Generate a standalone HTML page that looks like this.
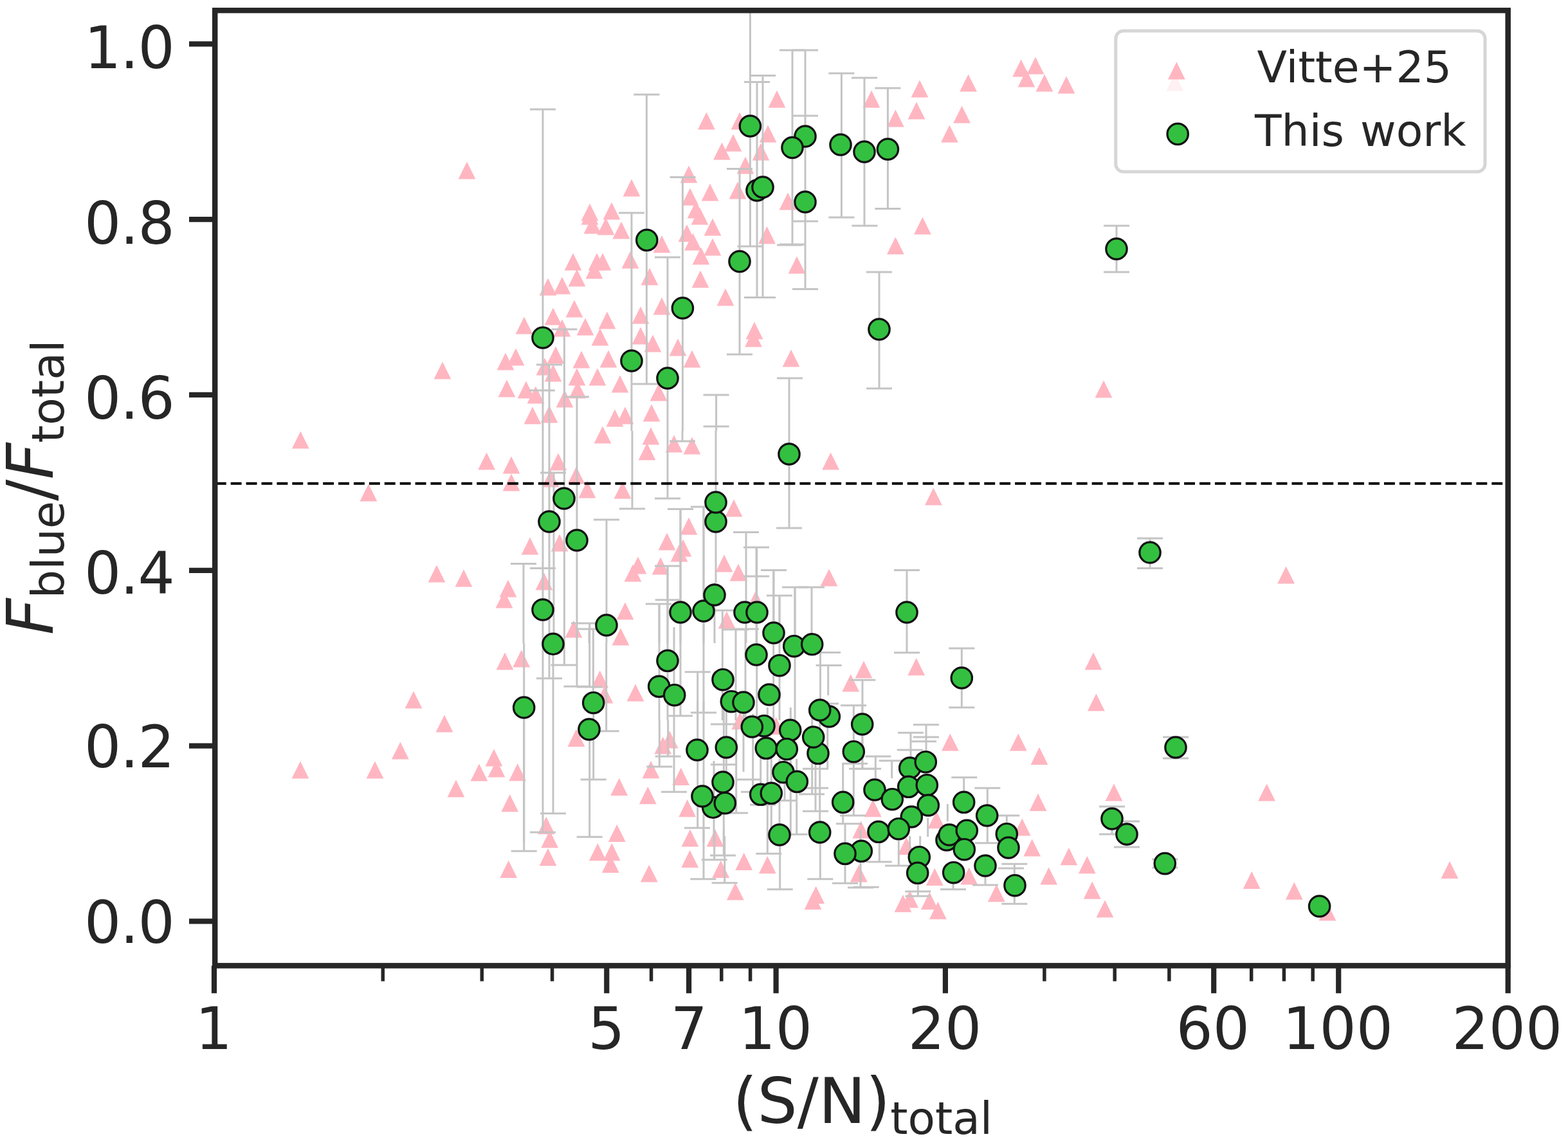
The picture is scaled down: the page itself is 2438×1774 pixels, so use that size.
<!DOCTYPE html>
<html><head><meta charset="utf-8"><title>F_blue/F_total vs (S/N)_total</title>
<style>html,body{margin:0;padding:0;background:#fff;}svg{display:block;}</style>
</head><body>
<svg xmlns="http://www.w3.org/2000/svg" width="2438" height="1774" viewBox="0 0 2438 1774">
<rect width="2438" height="1774" fill="#fff"/>
<defs><clipPath id="ax"><rect x="334.2" y="16.2" width="2010.4999999999998" height="1485.2"/></clipPath></defs>
<g clip-path="url(#ax)">
<path d="M726.0 251.4L712.6 278.6L739.4 278.6Z" fill="#ffb6c1"/>
<path d="M1098.4 174.4L1085.0 201.6L1111.8 201.6Z" fill="#ffb6c1"/>
<path d="M1208.0 140.4L1194.6 167.6L1221.4 167.6Z" fill="#ffb6c1"/>
<path d="M1150.0 174.4L1136.6 201.6L1163.4 201.6Z" fill="#ffb6c1"/>
<path d="M1194.0 194.4L1180.6 221.6L1207.4 221.6Z" fill="#ffb6c1"/>
<path d="M1140.0 208.4L1126.6 235.6L1153.4 235.6Z" fill="#ffb6c1"/>
<path d="M1122.4 221.4L1109.0 248.6L1135.8 248.6Z" fill="#ffb6c1"/>
<path d="M1183.0 222.4L1169.6 249.6L1196.4 249.6Z" fill="#ffb6c1"/>
<path d="M1159.0 243.4L1145.6 270.6L1172.4 270.6Z" fill="#ffb6c1"/>
<path d="M1071.0 257.4L1057.6 284.6L1084.4 284.6Z" fill="#ffb6c1"/>
<path d="M982.0 278.4L968.6 305.6L995.4 305.6Z" fill="#ffb6c1"/>
<path d="M1104.0 285.4L1090.6 312.6L1117.4 312.6Z" fill="#ffb6c1"/>
<path d="M1073.0 292.4L1059.6 319.6L1086.4 319.6Z" fill="#ffb6c1"/>
<path d="M1147.0 282.4L1133.6 309.6L1160.4 309.6Z" fill="#ffb6c1"/>
<path d="M1082.0 312.4L1068.6 339.6L1095.4 339.6Z" fill="#ffb6c1"/>
<path d="M951.0 314.4L937.6 341.6L964.4 341.6Z" fill="#ffb6c1"/>
<path d="M917.0 316.4L903.6 343.6L930.4 343.6Z" fill="#ffb6c1"/>
<path d="M1225.0 299.4L1211.6 326.6L1238.4 326.6Z" fill="#ffb6c1"/>
<path d="M1355.0 140.4L1341.6 167.6L1368.4 167.6Z" fill="#ffb6c1"/>
<path d="M1430.0 124.4L1416.6 151.6L1443.4 151.6Z" fill="#ffb6c1"/>
<path d="M1425.0 158.4L1411.6 185.6L1438.4 185.6Z" fill="#ffb6c1"/>
<path d="M1392.4 170.4L1379.0 197.6L1405.8 197.6Z" fill="#ffb6c1"/>
<path d="M1505.6 115.4L1492.2 142.6L1519.0 142.6Z" fill="#ffb6c1"/>
<path d="M1495.6 164.4L1482.2 191.6L1509.0 191.6Z" fill="#ffb6c1"/>
<path d="M1476.4 194.4L1463.0 221.6L1489.8 221.6Z" fill="#ffb6c1"/>
<path d="M1587.6 92.4L1574.2 119.6L1601.0 119.6Z" fill="#ffb6c1"/>
<path d="M1610.0 88.4L1596.6 115.6L1623.4 115.6Z" fill="#ffb6c1"/>
<path d="M1596.0 108.4L1582.6 135.6L1609.4 135.6Z" fill="#ffb6c1"/>
<path d="M1624.0 115.4L1610.6 142.6L1637.4 142.6Z" fill="#ffb6c1"/>
<path d="M1658.0 118.4L1644.6 145.6L1671.4 145.6Z" fill="#ffb6c1"/>
<path d="M688.0 562.4L674.6 589.6L701.4 589.6Z" fill="#ffb6c1"/>
<path d="M917.0 322.4L903.6 349.6L930.4 349.6Z" fill="#ffb6c1"/>
<path d="M921.0 336.4L907.6 363.6L934.4 363.6Z" fill="#ffb6c1"/>
<path d="M942.0 338.4L928.6 365.6L955.4 365.6Z" fill="#ffb6c1"/>
<path d="M966.0 344.4L952.6 371.6L979.4 371.6Z" fill="#ffb6c1"/>
<path d="M1029.0 365.9L1015.6 393.1L1042.4 393.1Z" fill="#ffb6c1"/>
<path d="M891.0 393.4L877.6 420.6L904.4 420.6Z" fill="#ffb6c1"/>
<path d="M928.0 393.4L914.6 420.6L941.4 420.6Z" fill="#ffb6c1"/>
<path d="M937.0 393.4L923.6 420.6L950.4 420.6Z" fill="#ffb6c1"/>
<path d="M980.0 390.4L966.6 417.6L993.4 417.6Z" fill="#ffb6c1"/>
<path d="M1088.0 322.4L1074.6 349.6L1101.4 349.6Z" fill="#ffb6c1"/>
<path d="M1108.0 339.4L1094.6 366.6L1121.4 366.6Z" fill="#ffb6c1"/>
<path d="M1068.0 348.9L1054.6 376.1L1081.4 376.1Z" fill="#ffb6c1"/>
<path d="M1077.5 362.4L1064.1 389.6L1090.9 389.6Z" fill="#ffb6c1"/>
<path d="M1108.0 370.4L1094.6 397.6L1121.4 397.6Z" fill="#ffb6c1"/>
<path d="M1090.0 384.4L1076.6 411.6L1103.4 411.6Z" fill="#ffb6c1"/>
<path d="M1192.5 352.0L1179.1 379.2L1205.9 379.2Z" fill="#ffb6c1"/>
<path d="M924.0 406.4L910.6 433.6L937.4 433.6Z" fill="#ffb6c1"/>
<path d="M897.0 418.4L883.6 445.6L910.4 445.6Z" fill="#ffb6c1"/>
<path d="M1010.0 416.4L996.6 443.6L1023.4 443.6Z" fill="#ffb6c1"/>
<path d="M1089.0 420.4L1075.6 447.6L1102.4 447.6Z" fill="#ffb6c1"/>
<path d="M852.0 432.4L838.6 459.6L865.4 459.6Z" fill="#ffb6c1"/>
<path d="M874.0 430.4L860.6 457.6L887.4 457.6Z" fill="#ffb6c1"/>
<path d="M1128.0 448.4L1114.6 475.6L1141.4 475.6Z" fill="#ffb6c1"/>
<path d="M893.0 466.4L879.6 493.6L906.4 493.6Z" fill="#ffb6c1"/>
<path d="M860.0 478.4L846.6 505.6L873.4 505.6Z" fill="#ffb6c1"/>
<path d="M1029.0 462.4L1015.6 489.6L1042.4 489.6Z" fill="#ffb6c1"/>
<path d="M996.0 476.4L982.6 503.6L1009.4 503.6Z" fill="#ffb6c1"/>
<path d="M944.0 484.4L930.6 511.6L957.4 511.6Z" fill="#ffb6c1"/>
<path d="M815.0 492.4L801.6 519.6L828.4 519.6Z" fill="#ffb6c1"/>
<path d="M874.0 496.4L860.6 523.6L887.4 523.6Z" fill="#ffb6c1"/>
<path d="M910.0 494.4L896.6 521.6L923.4 521.6Z" fill="#ffb6c1"/>
<path d="M933.0 510.4L919.6 537.6L946.4 537.6Z" fill="#ffb6c1"/>
<path d="M996.0 508.4L982.6 535.6L1009.4 535.6Z" fill="#ffb6c1"/>
<path d="M1015.0 520.4L1001.6 547.6L1028.4 547.6Z" fill="#ffb6c1"/>
<path d="M1054.0 526.4L1040.6 553.6L1067.4 553.6Z" fill="#ffb6c1"/>
<path d="M1173.0 500.4L1159.6 527.6L1186.4 527.6Z" fill="#ffb6c1"/>
<path d="M1171.5 512.4L1158.1 539.6L1184.9 539.6Z" fill="#ffb6c1"/>
<path d="M864.0 538.4L850.6 565.6L877.4 565.6Z" fill="#ffb6c1"/>
<path d="M802.0 541.4L788.6 568.6L815.4 568.6Z" fill="#ffb6c1"/>
<path d="M786.0 548.4L772.6 575.6L799.4 575.6Z" fill="#ffb6c1"/>
<path d="M904.0 545.4L890.6 572.6L917.4 572.6Z" fill="#ffb6c1"/>
<path d="M946.0 544.4L932.6 571.6L959.4 571.6Z" fill="#ffb6c1"/>
<path d="M1076.0 544.4L1062.6 571.6L1089.4 571.6Z" fill="#ffb6c1"/>
<path d="M847.0 556.4L833.6 583.6L860.4 583.6Z" fill="#ffb6c1"/>
<path d="M860.0 566.4L846.6 593.6L873.4 593.6Z" fill="#ffb6c1"/>
<path d="M897.0 572.4L883.6 599.6L910.4 599.6Z" fill="#ffb6c1"/>
<path d="M929.0 572.4L915.6 599.6L942.4 599.6Z" fill="#ffb6c1"/>
<path d="M964.0 583.4L950.6 610.6L977.4 610.6Z" fill="#ffb6c1"/>
<path d="M788.0 590.4L774.6 617.6L801.4 617.6Z" fill="#ffb6c1"/>
<path d="M818.0 592.4L804.6 619.6L831.4 619.6Z" fill="#ffb6c1"/>
<path d="M833.0 600.4L819.6 627.6L846.4 627.6Z" fill="#ffb6c1"/>
<path d="M878.0 606.4L864.6 633.6L891.4 633.6Z" fill="#ffb6c1"/>
<path d="M898.0 592.4L884.6 619.6L911.4 619.6Z" fill="#ffb6c1"/>
<path d="M1024.0 596.4L1010.6 623.6L1037.4 623.6Z" fill="#ffb6c1"/>
<path d="M828.0 632.4L814.6 659.6L841.4 659.6Z" fill="#ffb6c1"/>
<path d="M854.0 630.4L840.6 657.6L867.4 657.6Z" fill="#ffb6c1"/>
<path d="M956.0 636.4L942.6 663.6L969.4 663.6Z" fill="#ffb6c1"/>
<path d="M972.0 632.4L958.6 659.6L985.4 659.6Z" fill="#ffb6c1"/>
<path d="M1013.0 628.4L999.6 655.6L1026.4 655.6Z" fill="#ffb6c1"/>
<path d="M1434.4 337.4L1421.0 364.6L1447.8 364.6Z" fill="#ffb6c1"/>
<path d="M1392.4 368.4L1379.0 395.6L1405.8 395.6Z" fill="#ffb6c1"/>
<path d="M1239.0 398.4L1225.6 425.6L1252.4 425.6Z" fill="#ffb6c1"/>
<path d="M1230.0 543.4L1216.6 570.6L1243.4 570.6Z" fill="#ffb6c1"/>
<path d="M1716.0 591.4L1702.6 618.6L1729.4 618.6Z" fill="#ffb6c1"/>
<path d="M756.6 703.4L743.2 730.6L770.0 730.6Z" fill="#ffb6c1"/>
<path d="M573.0 752.4L559.6 779.6L586.4 779.6Z" fill="#ffb6c1"/>
<path d="M679.0 878.4L665.6 905.6L692.4 905.6Z" fill="#ffb6c1"/>
<path d="M721.0 885.4L707.6 912.6L734.4 912.6Z" fill="#ffb6c1"/>
<path d="M937.0 662.4L923.6 689.6L950.4 689.6Z" fill="#ffb6c1"/>
<path d="M1012.0 664.4L998.6 691.6L1025.4 691.6Z" fill="#ffb6c1"/>
<path d="M1006.0 688.4L992.6 715.6L1019.4 715.6Z" fill="#ffb6c1"/>
<path d="M1048.0 676.4L1034.6 703.6L1061.4 703.6Z" fill="#ffb6c1"/>
<path d="M1076.0 679.4L1062.6 706.6L1089.4 706.6Z" fill="#ffb6c1"/>
<path d="M795.0 709.4L781.6 736.6L808.4 736.6Z" fill="#ffb6c1"/>
<path d="M868.0 704.4L854.6 731.6L881.4 731.6Z" fill="#ffb6c1"/>
<path d="M795.0 736.4L781.6 763.6L808.4 763.6Z" fill="#ffb6c1"/>
<path d="M856.0 730.4L842.6 757.6L869.4 757.6Z" fill="#ffb6c1"/>
<path d="M896.0 725.4L882.6 752.6L909.4 752.6Z" fill="#ffb6c1"/>
<path d="M913.0 747.4L899.6 774.6L926.4 774.6Z" fill="#ffb6c1"/>
<path d="M968.0 748.4L954.6 775.6L981.4 775.6Z" fill="#ffb6c1"/>
<path d="M1141.0 776.4L1127.6 803.6L1154.4 803.6Z" fill="#ffb6c1"/>
<path d="M1071.0 804.4L1057.6 831.6L1084.4 831.6Z" fill="#ffb6c1"/>
<path d="M824.0 835.4L810.6 862.6L837.4 862.6Z" fill="#ffb6c1"/>
<path d="M870.0 830.4L856.6 857.6L883.4 857.6Z" fill="#ffb6c1"/>
<path d="M1037.0 828.4L1023.6 855.6L1050.4 855.6Z" fill="#ffb6c1"/>
<path d="M1062.0 838.4L1048.6 865.6L1075.4 865.6Z" fill="#ffb6c1"/>
<path d="M1056.0 846.4L1042.6 873.6L1069.4 873.6Z" fill="#ffb6c1"/>
<path d="M992.0 865.4L978.6 892.6L1005.4 892.6Z" fill="#ffb6c1"/>
<path d="M984.0 877.4L970.6 904.6L997.4 904.6Z" fill="#ffb6c1"/>
<path d="M1027.0 866.4L1013.6 893.6L1040.4 893.6Z" fill="#ffb6c1"/>
<path d="M1126.0 862.4L1112.6 889.6L1139.4 889.6Z" fill="#ffb6c1"/>
<path d="M1148.0 876.4L1134.6 903.6L1161.4 903.6Z" fill="#ffb6c1"/>
<path d="M846.0 890.4L832.6 917.6L859.4 917.6Z" fill="#ffb6c1"/>
<path d="M790.0 901.4L776.6 928.6L803.4 928.6Z" fill="#ffb6c1"/>
<path d="M784.0 918.4L770.6 945.6L797.4 945.6Z" fill="#ffb6c1"/>
<path d="M972.0 936.4L958.6 963.6L985.4 963.6Z" fill="#ffb6c1"/>
<path d="M1175.0 918.4L1161.6 945.6L1188.4 945.6Z" fill="#ffb6c1"/>
<path d="M892.0 964.4L878.6 991.6L905.4 991.6Z" fill="#ffb6c1"/>
<path d="M965.0 976.4L951.6 1003.6L978.4 1003.6Z" fill="#ffb6c1"/>
<path d="M1130.0 950.4L1116.6 977.6L1143.4 977.6Z" fill="#ffb6c1"/>
<path d="M1291.6 703.4L1278.2 730.6L1305.0 730.6Z" fill="#ffb6c1"/>
<path d="M1451.4 758.4L1438.0 785.6L1464.8 785.6Z" fill="#ffb6c1"/>
<path d="M1289.0 884.4L1275.6 911.6L1302.4 911.6Z" fill="#ffb6c1"/>
<path d="M1999.6 880.4L1986.2 907.6L2013.0 907.6Z" fill="#ffb6c1"/>
<path d="M643.0 1074.4L629.6 1101.6L656.4 1101.6Z" fill="#ffb6c1"/>
<path d="M691.0 1111.4L677.6 1138.6L704.4 1138.6Z" fill="#ffb6c1"/>
<path d="M622.4 1153.4L609.0 1180.6L635.8 1180.6Z" fill="#ffb6c1"/>
<path d="M467.0 1183.4L453.6 1210.6L480.4 1210.6Z" fill="#ffb6c1"/>
<path d="M583.0 1183.4L569.6 1210.6L596.4 1210.6Z" fill="#ffb6c1"/>
<path d="M745.0 1187.4L731.6 1214.6L758.4 1214.6Z" fill="#ffb6c1"/>
<path d="M768.0 1164.4L754.6 1191.6L781.4 1191.6Z" fill="#ffb6c1"/>
<path d="M709.0 1212.4L695.6 1239.6L722.4 1239.6Z" fill="#ffb6c1"/>
<path d="M785.0 1014.4L771.6 1041.6L798.4 1041.6Z" fill="#ffb6c1"/>
<path d="M810.7 1010.4L797.3 1037.6L824.1 1037.6Z" fill="#ffb6c1"/>
<path d="M932.7 1042.4L919.3 1069.6L946.1 1069.6Z" fill="#ffb6c1"/>
<path d="M940.0 1066.4L926.6 1093.6L953.4 1093.6Z" fill="#ffb6c1"/>
<path d="M988.0 1063.4L974.6 1090.6L1001.4 1090.6Z" fill="#ffb6c1"/>
<path d="M896.0 1133.7L882.6 1160.9L909.4 1160.9Z" fill="#ffb6c1"/>
<path d="M804.7 1187.1L791.3 1214.3L818.1 1214.3Z" fill="#ffb6c1"/>
<path d="M792.7 1235.1L779.3 1262.3L806.1 1262.3Z" fill="#ffb6c1"/>
<path d="M849.3 1269.7L835.9 1296.9L862.7 1296.9Z" fill="#ffb6c1"/>
<path d="M854.7 1291.1L841.3 1318.3L868.1 1318.3Z" fill="#ffb6c1"/>
<path d="M962.7 1209.7L949.3 1236.9L976.1 1236.9Z" fill="#ffb6c1"/>
<path d="M959.3 1281.7L945.9 1308.9L972.7 1308.9Z" fill="#ffb6c1"/>
<path d="M1012.0 1183.1L998.6 1210.3L1025.4 1210.3Z" fill="#ffb6c1"/>
<path d="M1007.3 1223.1L993.9 1250.3L1020.7 1250.3Z" fill="#ffb6c1"/>
<path d="M1030.7 1145.4L1017.3 1172.6L1044.1 1172.6Z" fill="#ffb6c1"/>
<path d="M1041.3 1136.4L1027.9 1163.6L1054.7 1163.6Z" fill="#ffb6c1"/>
<path d="M1058.7 1193.7L1045.3 1220.9L1072.1 1220.9Z" fill="#ffb6c1"/>
<path d="M1068.7 1243.1L1055.3 1270.3L1082.1 1270.3Z" fill="#ffb6c1"/>
<path d="M1073.0 1289.4L1059.6 1316.6L1086.4 1316.6Z" fill="#ffb6c1"/>
<path d="M1112.0 1289.4L1098.6 1316.6L1125.4 1316.6Z" fill="#ffb6c1"/>
<path d="M1150.7 1107.1L1137.3 1134.3L1164.1 1134.3Z" fill="#ffb6c1"/>
<path d="M1206.7 1115.1L1193.3 1142.3L1220.1 1142.3Z" fill="#ffb6c1"/>
<path d="M1338.7 1276.4L1325.3 1303.6L1352.1 1303.6Z" fill="#ffb6c1"/>
<path d="M1072.7 1321.7L1059.3 1348.9L1086.1 1348.9Z" fill="#ffb6c1"/>
<path d="M1120.7 1337.7L1107.3 1364.9L1134.1 1364.9Z" fill="#ffb6c1"/>
<path d="M1156.7 1325.7L1143.3 1352.9L1170.1 1352.9Z" fill="#ffb6c1"/>
<path d="M1193.3 1331.1L1179.9 1358.3L1206.7 1358.3Z" fill="#ffb6c1"/>
<path d="M1143.3 1372.4L1129.9 1399.6L1156.7 1399.6Z" fill="#ffb6c1"/>
<path d="M1268.7 1377.7L1255.3 1404.9L1282.1 1404.9Z" fill="#ffb6c1"/>
<path d="M1264.0 1387.1L1250.6 1414.3L1277.4 1414.3Z" fill="#ffb6c1"/>
<path d="M1335.3 1344.4L1321.9 1371.6L1348.7 1371.6Z" fill="#ffb6c1"/>
<path d="M790.7 1337.7L777.3 1364.9L804.1 1364.9Z" fill="#ffb6c1"/>
<path d="M852.0 1319.1L838.6 1346.3L865.4 1346.3Z" fill="#ffb6c1"/>
<path d="M929.3 1311.1L915.9 1338.3L942.7 1338.3Z" fill="#ffb6c1"/>
<path d="M951.3 1311.1L937.9 1338.3L964.7 1338.3Z" fill="#ffb6c1"/>
<path d="M949.3 1329.7L935.9 1356.9L962.7 1356.9Z" fill="#ffb6c1"/>
<path d="M1009.3 1344.4L995.9 1371.6L1022.7 1371.6Z" fill="#ffb6c1"/>
<path d="M1424.7 1023.1L1411.3 1050.3L1438.1 1050.3Z" fill="#ffb6c1"/>
<path d="M1343.0 1027.4L1329.6 1054.6L1356.4 1054.6Z" fill="#ffb6c1"/>
<path d="M1477.3 1140.4L1463.9 1167.6L1490.7 1167.6Z" fill="#ffb6c1"/>
<path d="M1583.3 1140.4L1569.9 1167.6L1596.7 1167.6Z" fill="#ffb6c1"/>
<path d="M1616.0 1161.7L1602.6 1188.9L1629.4 1188.9Z" fill="#ffb6c1"/>
<path d="M1614.0 1233.7L1600.6 1260.9L1627.4 1260.9Z" fill="#ffb6c1"/>
<path d="M1589.3 1272.4L1575.9 1299.6L1602.7 1299.6Z" fill="#ffb6c1"/>
<path d="M1604.7 1304.4L1591.3 1331.6L1618.1 1331.6Z" fill="#ffb6c1"/>
<path d="M1630.7 1348.4L1617.3 1375.6L1644.1 1375.6Z" fill="#ffb6c1"/>
<path d="M1549.3 1375.1L1535.9 1402.3L1562.7 1402.3Z" fill="#ffb6c1"/>
<path d="M1456.0 1261.1L1442.6 1288.3L1469.4 1288.3Z" fill="#ffb6c1"/>
<path d="M1357.3 1243.1L1343.9 1270.3L1370.7 1270.3Z" fill="#ffb6c1"/>
<path d="M1409.3 1301.7L1395.9 1328.9L1422.7 1328.9Z" fill="#ffb6c1"/>
<path d="M1453.3 1349.7L1439.9 1376.9L1466.7 1376.9Z" fill="#ffb6c1"/>
<path d="M1506.7 1348.4L1493.3 1375.6L1520.1 1375.6Z" fill="#ffb6c1"/>
<path d="M1414.7 1384.4L1401.3 1411.6L1428.1 1411.6Z" fill="#ffb6c1"/>
<path d="M1445.3 1387.1L1431.9 1414.3L1458.7 1414.3Z" fill="#ffb6c1"/>
<path d="M1404.0 1391.1L1390.6 1418.3L1417.4 1418.3Z" fill="#ffb6c1"/>
<path d="M1458.4 1402.1L1445.0 1429.3L1471.8 1429.3Z" fill="#ffb6c1"/>
<path d="M1700.0 1014.4L1686.6 1041.6L1713.4 1041.6Z" fill="#ffb6c1"/>
<path d="M1704.4 1078.4L1691.0 1105.6L1717.8 1105.6Z" fill="#ffb6c1"/>
<path d="M1732.0 1218.4L1718.6 1245.6L1745.4 1245.6Z" fill="#ffb6c1"/>
<path d="M1969.6 1218.4L1956.2 1245.6L1983.0 1245.6Z" fill="#ffb6c1"/>
<path d="M1661.9 1318.1L1648.5 1345.3L1675.3 1345.3Z" fill="#ffb6c1"/>
<path d="M1690.3 1331.0L1676.9 1358.2L1703.7 1358.2Z" fill="#ffb6c1"/>
<path d="M1698.2 1370.6L1684.8 1397.8L1711.6 1397.8Z" fill="#ffb6c1"/>
<path d="M1718.0 1399.4L1704.6 1426.6L1731.4 1426.6Z" fill="#ffb6c1"/>
<path d="M1946.2 1354.8L1932.8 1382.0L1959.6 1382.0Z" fill="#ffb6c1"/>
<path d="M2012.3 1371.6L1998.9 1398.8L2025.7 1398.8Z" fill="#ffb6c1"/>
<path d="M2064.0 1404.4L2050.6 1431.6L2077.4 1431.6Z" fill="#ffb6c1"/>
<path d="M2254.0 1338.9L2240.6 1366.1L2267.4 1366.1Z" fill="#ffb6c1"/>
<path d="M1322.7 1048.2L1309.3 1075.4L1336.1 1075.4Z" fill="#ffb6c1"/>
<path d="M467.3 670.4L453.9 697.6L480.7 697.6Z" fill="#ffb6c1"/>
<path d="M772.0 1181.4L758.6 1208.6L785.4 1208.6Z" fill="#ffb6c1"/>
<path d="M1826.7 114.4L1813.3 141.6L1840.1 141.6Z" fill="#ffb6c1"/>
<line x1="814.0" y1="876.6" x2="814.0" y2="1000.0" stroke="#c4c4c4" stroke-width="3"/>
<line x1="844.0" y1="670.0" x2="844.0" y2="1000.0" stroke="#c4c4c4" stroke-width="3"/>
<line x1="854.0" y1="670.0" x2="854.0" y2="1000.0" stroke="#c4c4c4" stroke-width="3"/>
<line x1="861.0" y1="735.0" x2="861.0" y2="1000.0" stroke="#c4c4c4" stroke-width="3"/>
<line x1="877.4" y1="670.0" x2="877.4" y2="1000.0" stroke="#c4c4c4" stroke-width="3"/>
<line x1="897.0" y1="670.0" x2="897.0" y2="1000.0" stroke="#c4c4c4" stroke-width="3"/>
<line x1="916.0" y1="978.0" x2="916.0" y2="1000.0" stroke="#c4c4c4" stroke-width="3"/>
<line x1="943.0" y1="808.0" x2="943.0" y2="1000.0" stroke="#c4c4c4" stroke-width="3"/>
<line x1="983.0" y1="670.0" x2="983.0" y2="791.0" stroke="#c4c4c4" stroke-width="3"/>
<line x1="1038.0" y1="670.0" x2="1038.0" y2="775.0" stroke="#c4c4c4" stroke-width="3"/>
<line x1="1038.0" y1="880.0" x2="1038.0" y2="1000.0" stroke="#c4c4c4" stroke-width="3"/>
<line x1="1058.0" y1="791.0" x2="1058.0" y2="1000.0" stroke="#c4c4c4" stroke-width="3"/>
<line x1="1061.0" y1="670.0" x2="1061.0" y2="686.0" stroke="#c4c4c4" stroke-width="3"/>
<line x1="1094.0" y1="788.0" x2="1094.0" y2="1000.0" stroke="#c4c4c4" stroke-width="3"/>
<line x1="1113.0" y1="670.0" x2="1113.0" y2="906.0" stroke="#c4c4c4" stroke-width="3"/>
<line x1="1111.0" y1="906.0" x2="1111.0" y2="925.0" stroke="#c4c4c4" stroke-width="3"/>
<line x1="1160.0" y1="827.6" x2="1160.0" y2="1000.0" stroke="#c4c4c4" stroke-width="3"/>
<line x1="1176.0" y1="851.0" x2="1176.0" y2="1000.0" stroke="#c4c4c4" stroke-width="3"/>
<line x1="1203.0" y1="886.0" x2="1203.0" y2="1000.0" stroke="#c4c4c4" stroke-width="3"/>
<line x1="1212.0" y1="926.0" x2="1212.0" y2="1000.0" stroke="#c4c4c4" stroke-width="3"/>
<line x1="1227.0" y1="670.0" x2="1227.0" y2="821.0" stroke="#c4c4c4" stroke-width="3"/>
<line x1="1025.0" y1="939.0" x2="1025.0" y2="1000.0" stroke="#c4c4c4" stroke-width="3"/>
<line x1="844.0" y1="170.0" x2="844.0" y2="670.0" stroke="#c4c4c4" stroke-width="3"/>
<line x1="854.0" y1="567.0" x2="854.0" y2="670.0" stroke="#c4c4c4" stroke-width="3"/>
<line x1="877.4" y1="512.0" x2="877.4" y2="670.0" stroke="#c4c4c4" stroke-width="3"/>
<line x1="897.0" y1="617.0" x2="897.0" y2="670.0" stroke="#c4c4c4" stroke-width="3"/>
<line x1="982.0" y1="331.0" x2="982.0" y2="670.0" stroke="#c4c4c4" stroke-width="3"/>
<line x1="1005.4" y1="147.0" x2="1005.4" y2="597.0" stroke="#c4c4c4" stroke-width="3"/>
<line x1="1038.0" y1="400.0" x2="1038.0" y2="670.0" stroke="#c4c4c4" stroke-width="3"/>
<line x1="1061.4" y1="275.6" x2="1061.4" y2="670.0" stroke="#c4c4c4" stroke-width="3"/>
<line x1="1113.6" y1="614.0" x2="1113.6" y2="670.0" stroke="#c4c4c4" stroke-width="3"/>
<line x1="1150.0" y1="262.0" x2="1150.0" y2="551.0" stroke="#c4c4c4" stroke-width="3"/>
<line x1="1166.4" y1="19.0" x2="1166.4" y2="383.0" stroke="#c4c4c4" stroke-width="3"/>
<line x1="1177.0" y1="127.6" x2="1177.0" y2="462.0" stroke="#c4c4c4" stroke-width="3"/>
<line x1="1186.0" y1="117.6" x2="1186.0" y2="462.0" stroke="#c4c4c4" stroke-width="3"/>
<line x1="1227.0" y1="588.0" x2="1227.0" y2="670.0" stroke="#c4c4c4" stroke-width="3"/>
<line x1="1232.0" y1="78.0" x2="1232.0" y2="380.0" stroke="#c4c4c4" stroke-width="3"/>
<line x1="1252.0" y1="78.0" x2="1252.0" y2="449.6" stroke="#c4c4c4" stroke-width="3"/>
<line x1="1308.4" y1="114.0" x2="1308.4" y2="338.0" stroke="#c4c4c4" stroke-width="3"/>
<line x1="1344.0" y1="121.0" x2="1344.0" y2="351.0" stroke="#c4c4c4" stroke-width="3"/>
<line x1="1380.4" y1="137.0" x2="1380.4" y2="324.4" stroke="#c4c4c4" stroke-width="3"/>
<line x1="1367.0" y1="423.0" x2="1367.0" y2="604.0" stroke="#c4c4c4" stroke-width="3"/>
<line x1="1736.0" y1="351.0" x2="1736.0" y2="423.0" stroke="#c4c4c4" stroke-width="3"/>
<line x1="1410.0" y1="886.4" x2="1410.0" y2="1000.0" stroke="#c4c4c4" stroke-width="3"/>
<line x1="1236.0" y1="913.0" x2="1236.0" y2="1000.0" stroke="#c4c4c4" stroke-width="3"/>
<line x1="1262.0" y1="913.0" x2="1262.0" y2="1000.0" stroke="#c4c4c4" stroke-width="3"/>
<line x1="1788.0" y1="837.0" x2="1788.0" y2="883.6" stroke="#c4c4c4" stroke-width="3"/>
<line x1="814.7" y1="1000.0" x2="814.7" y2="1100.0" stroke="#c4c4c4" stroke-width="3"/>
<line x1="854.0" y1="1000.0" x2="854.0" y2="1054.7" stroke="#c4c4c4" stroke-width="3"/>
<line x1="860.0" y1="1000.0" x2="860.0" y2="1120.0" stroke="#c4c4c4" stroke-width="3"/>
<line x1="877.4" y1="1000.0" x2="877.4" y2="1034.0" stroke="#c4c4c4" stroke-width="3"/>
<line x1="897.0" y1="1000.0" x2="897.0" y2="1067.3" stroke="#c4c4c4" stroke-width="3"/>
<line x1="916.7" y1="969.0" x2="916.7" y2="1068.0" stroke="#c4c4c4" stroke-width="3"/>
<line x1="922.4" y1="978.0" x2="922.4" y2="1093.0" stroke="#c4c4c4" stroke-width="3"/>
<line x1="942.7" y1="1000.0" x2="942.7" y2="1120.0" stroke="#c4c4c4" stroke-width="3"/>
<line x1="844.0" y1="1000.0" x2="844.0" y2="1120.0" stroke="#c4c4c4" stroke-width="3"/>
<line x1="1058.0" y1="791.0" x2="1058.0" y2="1113.0" stroke="#c4c4c4" stroke-width="3"/>
<line x1="1094.0" y1="788.0" x2="1094.0" y2="1108.0" stroke="#c4c4c4" stroke-width="3"/>
<line x1="1111.0" y1="925.0" x2="1111.0" y2="1000.0" stroke="#c4c4c4" stroke-width="3"/>
<line x1="1038.0" y1="880.0" x2="1038.0" y2="1120.0" stroke="#c4c4c4" stroke-width="3"/>
<line x1="1025.0" y1="939.0" x2="1025.0" y2="1120.0" stroke="#c4c4c4" stroke-width="3"/>
<line x1="1048.0" y1="975.0" x2="1048.0" y2="1120.0" stroke="#c4c4c4" stroke-width="3"/>
<line x1="1123.3" y1="949.0" x2="1123.3" y2="1120.0" stroke="#c4c4c4" stroke-width="3"/>
<line x1="1144.0" y1="978.7" x2="1144.0" y2="1120.0" stroke="#c4c4c4" stroke-width="3"/>
<line x1="1159.0" y1="978.0" x2="1159.0" y2="1120.0" stroke="#c4c4c4" stroke-width="3"/>
<line x1="1176.7" y1="851.0" x2="1176.7" y2="1120.0" stroke="#c4c4c4" stroke-width="3"/>
<line x1="1212.0" y1="926.0" x2="1212.0" y2="1120.0" stroke="#c4c4c4" stroke-width="3"/>
<line x1="1202.7" y1="886.0" x2="1202.7" y2="1120.0" stroke="#c4c4c4" stroke-width="3"/>
<line x1="1236.0" y1="913.0" x2="1236.0" y2="1120.0" stroke="#c4c4c4" stroke-width="3"/>
<line x1="1084.7" y1="1044.7" x2="1084.7" y2="1120.0" stroke="#c4c4c4" stroke-width="3"/>
<line x1="844.0" y1="1120.0" x2="844.0" y2="1294.0" stroke="#c4c4c4" stroke-width="3"/>
<line x1="860.0" y1="1120.0" x2="860.0" y2="1264.7" stroke="#c4c4c4" stroke-width="3"/>
<line x1="814.7" y1="1100.0" x2="814.7" y2="1310.0" stroke="#c4c4c4" stroke-width="3"/>
<line x1="916.7" y1="1134.0" x2="916.7" y2="1301.3" stroke="#c4c4c4" stroke-width="3"/>
<line x1="922.7" y1="1093.0" x2="922.7" y2="1212.0" stroke="#c4c4c4" stroke-width="3"/>
<line x1="942.7" y1="1120.0" x2="942.7" y2="1136.7" stroke="#c4c4c4" stroke-width="3"/>
<line x1="1025.3" y1="1120.0" x2="1025.3" y2="1192.0" stroke="#c4c4c4" stroke-width="3"/>
<line x1="1038.7" y1="1120.0" x2="1038.7" y2="1176.0" stroke="#c4c4c4" stroke-width="3"/>
<line x1="1048.0" y1="1120.0" x2="1048.0" y2="1231.3" stroke="#c4c4c4" stroke-width="3"/>
<line x1="1084.7" y1="1090.0" x2="1084.7" y2="1287.3" stroke="#c4c4c4" stroke-width="3"/>
<line x1="1094.0" y1="1090.0" x2="1094.0" y2="1310.0" stroke="#c4c4c4" stroke-width="3"/>
<line x1="1110.0" y1="1183.0" x2="1110.0" y2="1310.0" stroke="#c4c4c4" stroke-width="3"/>
<line x1="1125.3" y1="1090.0" x2="1125.3" y2="1310.0" stroke="#c4c4c4" stroke-width="3"/>
<line x1="1129.3" y1="1090.0" x2="1129.3" y2="1250.0" stroke="#c4c4c4" stroke-width="3"/>
<line x1="1144.7" y1="1130.0" x2="1144.7" y2="1264.0" stroke="#c4c4c4" stroke-width="3"/>
<line x1="1156.0" y1="1090.0" x2="1156.0" y2="1200.0" stroke="#c4c4c4" stroke-width="3"/>
<line x1="1170.7" y1="1110.0" x2="1170.7" y2="1231.0" stroke="#c4c4c4" stroke-width="3"/>
<line x1="1182.7" y1="1150.0" x2="1182.7" y2="1251.0" stroke="#c4c4c4" stroke-width="3"/>
<line x1="1193.3" y1="1100.0" x2="1193.3" y2="1260.0" stroke="#c4c4c4" stroke-width="3"/>
<line x1="1199.3" y1="1150.0" x2="1199.3" y2="1300.0" stroke="#c4c4c4" stroke-width="3"/>
<line x1="1212.0" y1="1180.0" x2="1212.0" y2="1300.0" stroke="#c4c4c4" stroke-width="3"/>
<line x1="1220.0" y1="1150.0" x2="1220.0" y2="1245.0" stroke="#c4c4c4" stroke-width="3"/>
<line x1="1229.3" y1="1100.0" x2="1229.3" y2="1300.0" stroke="#c4c4c4" stroke-width="3"/>
<line x1="1238.7" y1="1180.0" x2="1238.7" y2="1297.0" stroke="#c4c4c4" stroke-width="3"/>
<line x1="1262.7" y1="1100.0" x2="1262.7" y2="1235.0" stroke="#c4c4c4" stroke-width="3"/>
<line x1="1268.0" y1="1160.0" x2="1268.0" y2="1261.0" stroke="#c4c4c4" stroke-width="3"/>
<line x1="1274.7" y1="1090.0" x2="1274.7" y2="1300.0" stroke="#c4c4c4" stroke-width="3"/>
<line x1="1286.7" y1="1090.0" x2="1286.7" y2="1195.0" stroke="#c4c4c4" stroke-width="3"/>
<line x1="1310.7" y1="1187.0" x2="1310.7" y2="1281.0" stroke="#c4c4c4" stroke-width="3"/>
<line x1="1327.3" y1="1096.0" x2="1327.3" y2="1268.0" stroke="#c4c4c4" stroke-width="3"/>
<line x1="1340.7" y1="1096.0" x2="1340.7" y2="1195.0" stroke="#c4c4c4" stroke-width="3"/>
<line x1="1094.0" y1="1290.0" x2="1094.0" y2="1366.7" stroke="#c4c4c4" stroke-width="3"/>
<line x1="1110.7" y1="1290.0" x2="1110.7" y2="1336.7" stroke="#c4c4c4" stroke-width="3"/>
<line x1="1125.3" y1="1290.0" x2="1125.3" y2="1330.0" stroke="#c4c4c4" stroke-width="3"/>
<line x1="1126.7" y1="1300.0" x2="1126.7" y2="1372.7" stroke="#c4c4c4" stroke-width="3"/>
<line x1="1193.3" y1="1260.0" x2="1193.3" y2="1327.0" stroke="#c4c4c4" stroke-width="3"/>
<line x1="1212.7" y1="1300.0" x2="1212.7" y2="1382.7" stroke="#c4c4c4" stroke-width="3"/>
<line x1="1275.3" y1="1294.0" x2="1275.3" y2="1366.7" stroke="#c4c4c4" stroke-width="3"/>
<line x1="1314.0" y1="1280.0" x2="1314.0" y2="1373.0" stroke="#c4c4c4" stroke-width="3"/>
<line x1="1338.0" y1="1290.0" x2="1338.0" y2="1380.0" stroke="#c4c4c4" stroke-width="3"/>
<line x1="814.7" y1="1100.0" x2="814.7" y2="1323.3" stroke="#c4c4c4" stroke-width="3"/>
<line x1="1495.3" y1="1008.0" x2="1495.3" y2="1100.0" stroke="#c4c4c4" stroke-width="3"/>
<line x1="1410.0" y1="1000.0" x2="1410.0" y2="1014.7" stroke="#c4c4c4" stroke-width="3"/>
<line x1="1341.0" y1="1057.0" x2="1341.0" y2="1195.0" stroke="#c4c4c4" stroke-width="3"/>
<line x1="1440.0" y1="1126.7" x2="1440.0" y2="1184.7" stroke="#c4c4c4" stroke-width="3"/>
<line x1="1416.0" y1="1139.3" x2="1416.0" y2="1194.0" stroke="#c4c4c4" stroke-width="3"/>
<line x1="1361.3" y1="1176.0" x2="1361.3" y2="1210.0" stroke="#c4c4c4" stroke-width="3"/>
<line x1="1386.7" y1="1182.7" x2="1386.7" y2="1210.0" stroke="#c4c4c4" stroke-width="3"/>
<line x1="1367.3" y1="1310.0" x2="1367.3" y2="1340.0" stroke="#c4c4c4" stroke-width="3"/>
<line x1="1397.3" y1="1307.0" x2="1397.3" y2="1346.0" stroke="#c4c4c4" stroke-width="3"/>
<line x1="1498.7" y1="1209.3" x2="1498.7" y2="1247.0" stroke="#c4c4c4" stroke-width="3"/>
<line x1="1535.3" y1="1225.3" x2="1535.3" y2="1310.7" stroke="#c4c4c4" stroke-width="3"/>
<line x1="1565.3" y1="1268.0" x2="1565.3" y2="1297.0" stroke="#c4c4c4" stroke-width="3"/>
<line x1="1532.0" y1="1346.0" x2="1532.0" y2="1376.0" stroke="#c4c4c4" stroke-width="3"/>
<line x1="1482.0" y1="1357.0" x2="1482.0" y2="1382.7" stroke="#c4c4c4" stroke-width="3"/>
<line x1="1577.3" y1="1343.0" x2="1577.3" y2="1405.0" stroke="#c4c4c4" stroke-width="3"/>
<line x1="1427.3" y1="1357.0" x2="1427.3" y2="1393.0" stroke="#c4c4c4" stroke-width="3"/>
<line x1="1473.3" y1="1250.0" x2="1473.3" y2="1277.0" stroke="#c4c4c4" stroke-width="3"/>
<line x1="1442.7" y1="1272.0" x2="1442.7" y2="1301.0" stroke="#c4c4c4" stroke-width="3"/>
<line x1="1414.7" y1="1300.0" x2="1414.7" y2="1323.0" stroke="#c4c4c4" stroke-width="3"/>
<line x1="1430.7" y1="1300.0" x2="1430.7" y2="1333.0" stroke="#c4c4c4" stroke-width="3"/>
<line x1="1828.0" y1="1146.0" x2="1828.0" y2="1179.0" stroke="#c4c4c4" stroke-width="3"/>
<line x1="1729.0" y1="1254.0" x2="1729.0" y2="1297.0" stroke="#c4c4c4" stroke-width="3"/>
<line x1="1752.0" y1="1277.0" x2="1752.0" y2="1317.0" stroke="#c4c4c4" stroke-width="3"/>
<line x1="1287.7" y1="1034.5" x2="1287.7" y2="1081.0" stroke="#c4c4c4" stroke-width="3"/>
<line x1="1275.5" y1="1014.5" x2="1275.5" y2="1098.0" stroke="#c4c4c4" stroke-width="3"/>
<line x1="857.4" y1="512.0" x2="897.4" y2="512.0" stroke="#c4c4c4" stroke-width="3"/>
<line x1="834.0" y1="567.0" x2="874.0" y2="567.0" stroke="#c4c4c4" stroke-width="3"/>
<line x1="823.0" y1="607.0" x2="863.0" y2="607.0" stroke="#c4c4c4" stroke-width="3"/>
<line x1="876.0" y1="617.0" x2="916.0" y2="617.0" stroke="#c4c4c4" stroke-width="3"/>
<line x1="983.0" y1="597.0" x2="1023.0" y2="597.0" stroke="#c4c4c4" stroke-width="3"/>
<line x1="1018.0" y1="400.0" x2="1058.0" y2="400.0" stroke="#c4c4c4" stroke-width="3"/>
<line x1="1093.6" y1="614.0" x2="1133.6" y2="614.0" stroke="#c4c4c4" stroke-width="3"/>
<line x1="1093.6" y1="663.0" x2="1133.6" y2="663.0" stroke="#c4c4c4" stroke-width="3"/>
<line x1="1130.0" y1="551.0" x2="1170.0" y2="551.0" stroke="#c4c4c4" stroke-width="3"/>
<line x1="1146.4" y1="383.0" x2="1186.4" y2="383.0" stroke="#c4c4c4" stroke-width="3"/>
<line x1="1157.0" y1="462.4" x2="1197.0" y2="462.4" stroke="#c4c4c4" stroke-width="3"/>
<line x1="1166.0" y1="462.4" x2="1206.0" y2="462.4" stroke="#c4c4c4" stroke-width="3"/>
<line x1="1208.0" y1="381.0" x2="1248.0" y2="381.0" stroke="#c4c4c4" stroke-width="3"/>
<line x1="1208.0" y1="588.0" x2="1248.0" y2="588.0" stroke="#c4c4c4" stroke-width="3"/>
<line x1="962.0" y1="331.0" x2="1002.0" y2="331.0" stroke="#c4c4c4" stroke-width="3"/>
<line x1="824.0" y1="170.0" x2="864.0" y2="170.0" stroke="#c4c4c4" stroke-width="3"/>
<line x1="985.4" y1="147.0" x2="1025.4" y2="147.0" stroke="#c4c4c4" stroke-width="3"/>
<line x1="1041.6" y1="275.6" x2="1081.6" y2="275.6" stroke="#c4c4c4" stroke-width="3"/>
<line x1="1130.0" y1="262.4" x2="1170.0" y2="262.4" stroke="#c4c4c4" stroke-width="3"/>
<line x1="1157.0" y1="127.6" x2="1197.0" y2="127.6" stroke="#c4c4c4" stroke-width="3"/>
<line x1="1166.0" y1="117.6" x2="1206.0" y2="117.6" stroke="#c4c4c4" stroke-width="3"/>
<line x1="1232.0" y1="344.0" x2="1272.0" y2="344.0" stroke="#c4c4c4" stroke-width="3"/>
<line x1="1212.0" y1="380.0" x2="1252.0" y2="380.0" stroke="#c4c4c4" stroke-width="3"/>
<line x1="1324.4" y1="351.0" x2="1364.4" y2="351.0" stroke="#c4c4c4" stroke-width="3"/>
<line x1="1288.4" y1="338.0" x2="1328.4" y2="338.0" stroke="#c4c4c4" stroke-width="3"/>
<line x1="1232.0" y1="449.6" x2="1272.0" y2="449.6" stroke="#c4c4c4" stroke-width="3"/>
<line x1="1212.0" y1="78.0" x2="1252.0" y2="78.0" stroke="#c4c4c4" stroke-width="3"/>
<line x1="1232.0" y1="78.0" x2="1272.0" y2="78.0" stroke="#c4c4c4" stroke-width="3"/>
<line x1="1232.0" y1="180.0" x2="1272.0" y2="180.0" stroke="#c4c4c4" stroke-width="3"/>
<line x1="1288.4" y1="114.0" x2="1328.4" y2="114.0" stroke="#c4c4c4" stroke-width="3"/>
<line x1="1324.0" y1="121.0" x2="1364.0" y2="121.0" stroke="#c4c4c4" stroke-width="3"/>
<line x1="1360.4" y1="137.0" x2="1400.4" y2="137.0" stroke="#c4c4c4" stroke-width="3"/>
<line x1="1360.4" y1="324.4" x2="1400.4" y2="324.4" stroke="#c4c4c4" stroke-width="3"/>
<line x1="1347.0" y1="423.0" x2="1387.0" y2="423.0" stroke="#c4c4c4" stroke-width="3"/>
<line x1="1347.0" y1="604.0" x2="1387.0" y2="604.0" stroke="#c4c4c4" stroke-width="3"/>
<line x1="1716.0" y1="351.0" x2="1756.0" y2="351.0" stroke="#c4c4c4" stroke-width="3"/>
<line x1="1716.0" y1="423.0" x2="1756.0" y2="423.0" stroke="#c4c4c4" stroke-width="3"/>
<line x1="840.0" y1="735.0" x2="880.0" y2="735.0" stroke="#c4c4c4" stroke-width="3"/>
<line x1="963.0" y1="791.0" x2="1003.0" y2="791.0" stroke="#c4c4c4" stroke-width="3"/>
<line x1="1018.0" y1="775.0" x2="1058.0" y2="775.0" stroke="#c4c4c4" stroke-width="3"/>
<line x1="1041.0" y1="686.0" x2="1081.0" y2="686.0" stroke="#c4c4c4" stroke-width="3"/>
<line x1="1038.0" y1="791.4" x2="1078.0" y2="791.4" stroke="#c4c4c4" stroke-width="3"/>
<line x1="923.0" y1="808.0" x2="963.0" y2="808.0" stroke="#c4c4c4" stroke-width="3"/>
<line x1="1074.0" y1="788.0" x2="1114.0" y2="788.0" stroke="#c4c4c4" stroke-width="3"/>
<line x1="794.0" y1="876.6" x2="834.0" y2="876.6" stroke="#c4c4c4" stroke-width="3"/>
<line x1="824.0" y1="883.6" x2="864.0" y2="883.6" stroke="#c4c4c4" stroke-width="3"/>
<line x1="1018.0" y1="880.0" x2="1058.0" y2="880.0" stroke="#c4c4c4" stroke-width="3"/>
<line x1="1140.0" y1="827.6" x2="1180.0" y2="827.6" stroke="#c4c4c4" stroke-width="3"/>
<line x1="1156.0" y1="851.0" x2="1196.0" y2="851.0" stroke="#c4c4c4" stroke-width="3"/>
<line x1="1156.0" y1="896.0" x2="1196.0" y2="896.0" stroke="#c4c4c4" stroke-width="3"/>
<line x1="1183.0" y1="886.4" x2="1223.0" y2="886.4" stroke="#c4c4c4" stroke-width="3"/>
<line x1="1207.0" y1="821.0" x2="1247.0" y2="821.0" stroke="#c4c4c4" stroke-width="3"/>
<line x1="1192.0" y1="926.0" x2="1232.0" y2="926.0" stroke="#c4c4c4" stroke-width="3"/>
<line x1="1004.0" y1="939.0" x2="1044.0" y2="939.0" stroke="#c4c4c4" stroke-width="3"/>
<line x1="888.0" y1="969.0" x2="928.0" y2="969.0" stroke="#c4c4c4" stroke-width="3"/>
<line x1="896.0" y1="978.0" x2="936.0" y2="978.0" stroke="#c4c4c4" stroke-width="3"/>
<line x1="1140.0" y1="978.0" x2="1180.0" y2="978.0" stroke="#c4c4c4" stroke-width="3"/>
<line x1="1390.0" y1="886.4" x2="1430.0" y2="886.4" stroke="#c4c4c4" stroke-width="3"/>
<line x1="1216.0" y1="913.0" x2="1256.0" y2="913.0" stroke="#c4c4c4" stroke-width="3"/>
<line x1="1242.0" y1="913.0" x2="1282.0" y2="913.0" stroke="#c4c4c4" stroke-width="3"/>
<line x1="1768.0" y1="837.0" x2="1808.0" y2="837.0" stroke="#c4c4c4" stroke-width="3"/>
<line x1="1768.0" y1="883.6" x2="1808.0" y2="883.6" stroke="#c4c4c4" stroke-width="3"/>
<line x1="834.0" y1="1054.7" x2="874.0" y2="1054.7" stroke="#c4c4c4" stroke-width="3"/>
<line x1="856.5" y1="1034.0" x2="896.5" y2="1034.0" stroke="#c4c4c4" stroke-width="3"/>
<line x1="876.5" y1="1067.3" x2="916.5" y2="1067.3" stroke="#c4c4c4" stroke-width="3"/>
<line x1="896.7" y1="1068.0" x2="936.7" y2="1068.0" stroke="#c4c4c4" stroke-width="3"/>
<line x1="1018.7" y1="932.7" x2="1058.7" y2="932.7" stroke="#c4c4c4" stroke-width="3"/>
<line x1="1124.0" y1="978.7" x2="1164.0" y2="978.7" stroke="#c4c4c4" stroke-width="3"/>
<line x1="1064.7" y1="1044.7" x2="1104.7" y2="1044.7" stroke="#c4c4c4" stroke-width="3"/>
<line x1="1074.0" y1="1108.0" x2="1114.0" y2="1108.0" stroke="#c4c4c4" stroke-width="3"/>
<line x1="1037.0" y1="1113.0" x2="1077.0" y2="1113.0" stroke="#c4c4c4" stroke-width="3"/>
<line x1="1103.3" y1="949.0" x2="1143.3" y2="949.0" stroke="#c4c4c4" stroke-width="3"/>
<line x1="922.7" y1="1136.7" x2="962.7" y2="1136.7" stroke="#c4c4c4" stroke-width="3"/>
<line x1="902.7" y1="1212.0" x2="942.7" y2="1212.0" stroke="#c4c4c4" stroke-width="3"/>
<line x1="896.7" y1="1301.3" x2="936.7" y2="1301.3" stroke="#c4c4c4" stroke-width="3"/>
<line x1="840.0" y1="1264.7" x2="880.0" y2="1264.7" stroke="#c4c4c4" stroke-width="3"/>
<line x1="824.0" y1="1294.0" x2="864.0" y2="1294.0" stroke="#c4c4c4" stroke-width="3"/>
<line x1="1018.7" y1="1176.0" x2="1058.7" y2="1176.0" stroke="#c4c4c4" stroke-width="3"/>
<line x1="1005.3" y1="1192.0" x2="1045.3" y2="1192.0" stroke="#c4c4c4" stroke-width="3"/>
<line x1="1028.0" y1="1231.3" x2="1068.0" y2="1231.3" stroke="#c4c4c4" stroke-width="3"/>
<line x1="1064.0" y1="1287.3" x2="1104.0" y2="1287.3" stroke="#c4c4c4" stroke-width="3"/>
<line x1="1105.0" y1="1126.0" x2="1145.0" y2="1126.0" stroke="#c4c4c4" stroke-width="3"/>
<line x1="1105.0" y1="1188.7" x2="1145.0" y2="1188.7" stroke="#c4c4c4" stroke-width="3"/>
<line x1="1144.0" y1="1212.0" x2="1184.0" y2="1212.0" stroke="#c4c4c4" stroke-width="3"/>
<line x1="1152.0" y1="1231.3" x2="1192.0" y2="1231.3" stroke="#c4c4c4" stroke-width="3"/>
<line x1="1166.0" y1="1251.3" x2="1206.0" y2="1251.3" stroke="#c4c4c4" stroke-width="3"/>
<line x1="1198.0" y1="1244.7" x2="1238.0" y2="1244.7" stroke="#c4c4c4" stroke-width="3"/>
<line x1="1248.0" y1="1261.3" x2="1288.0" y2="1261.3" stroke="#c4c4c4" stroke-width="3"/>
<line x1="1248.0" y1="1195.3" x2="1288.0" y2="1195.3" stroke="#c4c4c4" stroke-width="3"/>
<line x1="1320.0" y1="1195.3" x2="1360.0" y2="1195.3" stroke="#c4c4c4" stroke-width="3"/>
<line x1="1248.0" y1="1225.3" x2="1288.0" y2="1225.3" stroke="#c4c4c4" stroke-width="3"/>
<line x1="1242.0" y1="1234.7" x2="1282.0" y2="1234.7" stroke="#c4c4c4" stroke-width="3"/>
<line x1="1306.0" y1="1268.0" x2="1346.0" y2="1268.0" stroke="#c4c4c4" stroke-width="3"/>
<line x1="1300.0" y1="1280.7" x2="1340.0" y2="1280.7" stroke="#c4c4c4" stroke-width="3"/>
<line x1="1123.0" y1="1264.0" x2="1163.0" y2="1264.0" stroke="#c4c4c4" stroke-width="3"/>
<line x1="1216.0" y1="1297.3" x2="1256.0" y2="1297.3" stroke="#c4c4c4" stroke-width="3"/>
<line x1="1309.0" y1="1187.3" x2="1349.0" y2="1187.3" stroke="#c4c4c4" stroke-width="3"/>
<line x1="1307.0" y1="1096.7" x2="1347.0" y2="1096.7" stroke="#c4c4c4" stroke-width="3"/>
<line x1="1264.0" y1="1094.0" x2="1304.0" y2="1094.0" stroke="#c4c4c4" stroke-width="3"/>
<line x1="1073.3" y1="1366.7" x2="1113.3" y2="1366.7" stroke="#c4c4c4" stroke-width="3"/>
<line x1="1104.0" y1="1330.0" x2="1144.0" y2="1330.0" stroke="#c4c4c4" stroke-width="3"/>
<line x1="1090.7" y1="1336.7" x2="1130.7" y2="1336.7" stroke="#c4c4c4" stroke-width="3"/>
<line x1="1106.7" y1="1372.7" x2="1146.7" y2="1372.7" stroke="#c4c4c4" stroke-width="3"/>
<line x1="1175.3" y1="1327.3" x2="1215.3" y2="1327.3" stroke="#c4c4c4" stroke-width="3"/>
<line x1="1192.7" y1="1382.7" x2="1232.7" y2="1382.7" stroke="#c4c4c4" stroke-width="3"/>
<line x1="1255.3" y1="1366.7" x2="1295.3" y2="1366.7" stroke="#c4c4c4" stroke-width="3"/>
<line x1="1294.0" y1="1373.3" x2="1334.0" y2="1373.3" stroke="#c4c4c4" stroke-width="3"/>
<line x1="1318.0" y1="1380.0" x2="1358.0" y2="1380.0" stroke="#c4c4c4" stroke-width="3"/>
<line x1="794.7" y1="1323.3" x2="834.7" y2="1323.3" stroke="#c4c4c4" stroke-width="3"/>
<line x1="1475.3" y1="1008.0" x2="1515.3" y2="1008.0" stroke="#c4c4c4" stroke-width="3"/>
<line x1="1475.3" y1="1100.0" x2="1515.3" y2="1100.0" stroke="#c4c4c4" stroke-width="3"/>
<line x1="1390.0" y1="1014.7" x2="1430.0" y2="1014.7" stroke="#c4c4c4" stroke-width="3"/>
<line x1="1321.3" y1="1057.3" x2="1361.3" y2="1057.3" stroke="#c4c4c4" stroke-width="3"/>
<line x1="1420.0" y1="1126.7" x2="1460.0" y2="1126.7" stroke="#c4c4c4" stroke-width="3"/>
<line x1="1396.0" y1="1139.3" x2="1436.0" y2="1139.3" stroke="#c4c4c4" stroke-width="3"/>
<line x1="1420.0" y1="1146.0" x2="1460.0" y2="1146.0" stroke="#c4c4c4" stroke-width="3"/>
<line x1="1416.0" y1="1152.7" x2="1456.0" y2="1152.7" stroke="#c4c4c4" stroke-width="3"/>
<line x1="1394.7" y1="1166.0" x2="1434.7" y2="1166.0" stroke="#c4c4c4" stroke-width="3"/>
<line x1="1345.3" y1="1176.0" x2="1385.3" y2="1176.0" stroke="#c4c4c4" stroke-width="3"/>
<line x1="1366.7" y1="1182.7" x2="1406.7" y2="1182.7" stroke="#c4c4c4" stroke-width="3"/>
<line x1="1330.0" y1="1195.3" x2="1370.0" y2="1195.3" stroke="#c4c4c4" stroke-width="3"/>
<line x1="1479.3" y1="1208.7" x2="1519.3" y2="1208.7" stroke="#c4c4c4" stroke-width="3"/>
<line x1="1515.3" y1="1225.3" x2="1555.3" y2="1225.3" stroke="#c4c4c4" stroke-width="3"/>
<line x1="1545.3" y1="1268.0" x2="1585.3" y2="1268.0" stroke="#c4c4c4" stroke-width="3"/>
<line x1="1516.0" y1="1310.7" x2="1556.0" y2="1310.7" stroke="#c4c4c4" stroke-width="3"/>
<line x1="1512.0" y1="1376.0" x2="1552.0" y2="1376.0" stroke="#c4c4c4" stroke-width="3"/>
<line x1="1462.0" y1="1382.7" x2="1502.0" y2="1382.7" stroke="#c4c4c4" stroke-width="3"/>
<line x1="1557.3" y1="1343.3" x2="1597.3" y2="1343.3" stroke="#c4c4c4" stroke-width="3"/>
<line x1="1552.0" y1="1350.0" x2="1592.0" y2="1350.0" stroke="#c4c4c4" stroke-width="3"/>
<line x1="1557.3" y1="1405.3" x2="1597.3" y2="1405.3" stroke="#c4c4c4" stroke-width="3"/>
<line x1="1407.3" y1="1386.0" x2="1447.3" y2="1386.0" stroke="#c4c4c4" stroke-width="3"/>
<line x1="1407.3" y1="1393.3" x2="1447.3" y2="1393.3" stroke="#c4c4c4" stroke-width="3"/>
<line x1="1346.7" y1="1340.0" x2="1386.7" y2="1340.0" stroke="#c4c4c4" stroke-width="3"/>
<line x1="1376.0" y1="1346.0" x2="1416.0" y2="1346.0" stroke="#c4c4c4" stroke-width="3"/>
<line x1="1326.7" y1="1379.3" x2="1366.7" y2="1379.3" stroke="#c4c4c4" stroke-width="3"/>
<line x1="1808.0" y1="1146.0" x2="1848.0" y2="1146.0" stroke="#c4c4c4" stroke-width="3"/>
<line x1="1808.0" y1="1179.0" x2="1848.0" y2="1179.0" stroke="#c4c4c4" stroke-width="3"/>
<line x1="1709.0" y1="1254.0" x2="1749.0" y2="1254.0" stroke="#c4c4c4" stroke-width="3"/>
<line x1="1709.0" y1="1297.0" x2="1749.0" y2="1297.0" stroke="#c4c4c4" stroke-width="3"/>
<line x1="1732.0" y1="1277.0" x2="1772.0" y2="1277.0" stroke="#c4c4c4" stroke-width="3"/>
<line x1="1732.0" y1="1317.0" x2="1772.0" y2="1317.0" stroke="#c4c4c4" stroke-width="3"/>
<line x1="1791.3" y1="1336.0" x2="1831.3" y2="1336.0" stroke="#c4c4c4" stroke-width="3"/>
<line x1="1791.3" y1="1349.0" x2="1831.3" y2="1349.0" stroke="#c4c4c4" stroke-width="3"/>
<line x1="1267.0" y1="1014.5" x2="1307.0" y2="1014.5" stroke="#c4c4c4" stroke-width="3"/>
<line x1="1268.6" y1="1034.5" x2="1308.6" y2="1034.5" stroke="#c4c4c4" stroke-width="3"/>
<line x1="334.8" y1="751.8" x2="2344.7" y2="751.8" stroke="#000" stroke-width="4.1" stroke-dasharray="16.9 7.01"/>
<circle cx="1177.0" cy="296.0" r="16.2" fill="#33c040" stroke="#111" stroke-width="3.2"/>
<circle cx="1113.0" cy="811.0" r="16.2" fill="#33c040" stroke="#111" stroke-width="3.2"/>
<circle cx="1158.0" cy="952.0" r="16.2" fill="#33c040" stroke="#111" stroke-width="3.2"/>
<circle cx="1137.3" cy="1090.7" r="16.2" fill="#33c040" stroke="#111" stroke-width="3.2"/>
<circle cx="1188.0" cy="1128.7" r="16.2" fill="#33c040" stroke="#111" stroke-width="3.2"/>
<circle cx="1289.3" cy="1114.0" r="16.2" fill="#33c040" stroke="#111" stroke-width="3.2"/>
<circle cx="1272.0" cy="1171.3" r="16.2" fill="#33c040" stroke="#111" stroke-width="3.2"/>
<circle cx="1108.7" cy="1255.3" r="16.2" fill="#33c040" stroke="#111" stroke-width="3.2"/>
<circle cx="1218.0" cy="1200.7" r="16.2" fill="#33c040" stroke="#111" stroke-width="3.2"/>
<circle cx="1182.7" cy="1235.3" r="16.2" fill="#33c040" stroke="#111" stroke-width="3.2"/>
<circle cx="1339.3" cy="1323.3" r="16.2" fill="#33c040" stroke="#111" stroke-width="3.2"/>
<circle cx="1414.7" cy="1194.0" r="16.2" fill="#33c040" stroke="#111" stroke-width="3.2"/>
<circle cx="1472.0" cy="1306.0" r="16.2" fill="#33c040" stroke="#111" stroke-width="3.2"/>
<circle cx="1565.3" cy="1296.7" r="16.2" fill="#33c040" stroke="#111" stroke-width="3.2"/>
<circle cx="1429.3" cy="1332.7" r="16.2" fill="#33c040" stroke="#111" stroke-width="3.2"/>
<circle cx="1166.4" cy="196.0" r="16.2" fill="#33c040" stroke="#111" stroke-width="3.2"/>
<circle cx="1186.0" cy="291.0" r="16.2" fill="#33c040" stroke="#111" stroke-width="3.2"/>
<circle cx="1252.0" cy="212.0" r="16.2" fill="#33c040" stroke="#111" stroke-width="3.2"/>
<circle cx="1232.0" cy="229.5" r="16.2" fill="#33c040" stroke="#111" stroke-width="3.2"/>
<circle cx="1307.0" cy="225.0" r="16.2" fill="#33c040" stroke="#111" stroke-width="3.2"/>
<circle cx="1344.0" cy="236.0" r="16.2" fill="#33c040" stroke="#111" stroke-width="3.2"/>
<circle cx="1380.4" cy="232.0" r="16.2" fill="#33c040" stroke="#111" stroke-width="3.2"/>
<circle cx="1252.0" cy="314.0" r="16.2" fill="#33c040" stroke="#111" stroke-width="3.2"/>
<circle cx="1005.8" cy="373.3" r="16.2" fill="#33c040" stroke="#111" stroke-width="3.2"/>
<circle cx="1150.0" cy="406.5" r="16.2" fill="#33c040" stroke="#111" stroke-width="3.2"/>
<circle cx="844.0" cy="525.0" r="16.2" fill="#33c040" stroke="#111" stroke-width="3.2"/>
<circle cx="982.0" cy="561.0" r="16.2" fill="#33c040" stroke="#111" stroke-width="3.2"/>
<circle cx="1038.0" cy="588.0" r="16.2" fill="#33c040" stroke="#111" stroke-width="3.2"/>
<circle cx="1061.4" cy="479.0" r="16.2" fill="#33c040" stroke="#111" stroke-width="3.2"/>
<circle cx="1367.0" cy="512.0" r="16.2" fill="#33c040" stroke="#111" stroke-width="3.2"/>
<circle cx="1736.0" cy="387.0" r="16.2" fill="#33c040" stroke="#111" stroke-width="3.2"/>
<circle cx="877.0" cy="775.0" r="16.2" fill="#33c040" stroke="#111" stroke-width="3.2"/>
<circle cx="854.0" cy="811.0" r="16.2" fill="#33c040" stroke="#111" stroke-width="3.2"/>
<circle cx="897.0" cy="840.0" r="16.2" fill="#33c040" stroke="#111" stroke-width="3.2"/>
<circle cx="1113.0" cy="781.0" r="16.2" fill="#33c040" stroke="#111" stroke-width="3.2"/>
<circle cx="1227.0" cy="706.0" r="16.2" fill="#33c040" stroke="#111" stroke-width="3.2"/>
<circle cx="844.0" cy="948.0" r="16.2" fill="#33c040" stroke="#111" stroke-width="3.2"/>
<circle cx="943.0" cy="972.0" r="16.2" fill="#33c040" stroke="#111" stroke-width="3.2"/>
<circle cx="1058.0" cy="952.0" r="16.2" fill="#33c040" stroke="#111" stroke-width="3.2"/>
<circle cx="1094.0" cy="950.0" r="16.2" fill="#33c040" stroke="#111" stroke-width="3.2"/>
<circle cx="1111.0" cy="925.0" r="16.2" fill="#33c040" stroke="#111" stroke-width="3.2"/>
<circle cx="1177.0" cy="952.0" r="16.2" fill="#33c040" stroke="#111" stroke-width="3.2"/>
<circle cx="1203.0" cy="984.0" r="16.2" fill="#33c040" stroke="#111" stroke-width="3.2"/>
<circle cx="1410.0" cy="952.0" r="16.2" fill="#33c040" stroke="#111" stroke-width="3.2"/>
<circle cx="1788.0" cy="859.0" r="16.2" fill="#33c040" stroke="#111" stroke-width="3.2"/>
<circle cx="860.0" cy="1001.3" r="16.2" fill="#33c040" stroke="#111" stroke-width="3.2"/>
<circle cx="814.7" cy="1100.0" r="16.2" fill="#33c040" stroke="#111" stroke-width="3.2"/>
<circle cx="922.7" cy="1092.7" r="16.2" fill="#33c040" stroke="#111" stroke-width="3.2"/>
<circle cx="1234.7" cy="1004.7" r="16.2" fill="#33c040" stroke="#111" stroke-width="3.2"/>
<circle cx="1262.7" cy="1001.8" r="16.2" fill="#33c040" stroke="#111" stroke-width="3.2"/>
<circle cx="1176.0" cy="1018.0" r="16.2" fill="#33c040" stroke="#111" stroke-width="3.2"/>
<circle cx="1212.0" cy="1034.7" r="16.2" fill="#33c040" stroke="#111" stroke-width="3.2"/>
<circle cx="1038.0" cy="1027.3" r="16.2" fill="#33c040" stroke="#111" stroke-width="3.2"/>
<circle cx="1024.7" cy="1067.3" r="16.2" fill="#33c040" stroke="#111" stroke-width="3.2"/>
<circle cx="1048.7" cy="1080.7" r="16.2" fill="#33c040" stroke="#111" stroke-width="3.2"/>
<circle cx="1124.0" cy="1056.7" r="16.2" fill="#33c040" stroke="#111" stroke-width="3.2"/>
<circle cx="1156.0" cy="1092.0" r="16.2" fill="#33c040" stroke="#111" stroke-width="3.2"/>
<circle cx="1196.0" cy="1080.0" r="16.2" fill="#33c040" stroke="#111" stroke-width="3.2"/>
<circle cx="916.0" cy="1134.0" r="16.2" fill="#33c040" stroke="#111" stroke-width="3.2"/>
<circle cx="1169.3" cy="1130.0" r="16.2" fill="#33c040" stroke="#111" stroke-width="3.2"/>
<circle cx="1228.7" cy="1135.3" r="16.2" fill="#33c040" stroke="#111" stroke-width="3.2"/>
<circle cx="1274.7" cy="1104.0" r="16.2" fill="#33c040" stroke="#111" stroke-width="3.2"/>
<circle cx="1340.7" cy="1126.0" r="16.2" fill="#33c040" stroke="#111" stroke-width="3.2"/>
<circle cx="1084.0" cy="1166.0" r="16.2" fill="#33c040" stroke="#111" stroke-width="3.2"/>
<circle cx="1129.3" cy="1162.0" r="16.2" fill="#33c040" stroke="#111" stroke-width="3.2"/>
<circle cx="1191.3" cy="1163.3" r="16.2" fill="#33c040" stroke="#111" stroke-width="3.2"/>
<circle cx="1223.3" cy="1164.7" r="16.2" fill="#33c040" stroke="#111" stroke-width="3.2"/>
<circle cx="1264.7" cy="1146.0" r="16.2" fill="#33c040" stroke="#111" stroke-width="3.2"/>
<circle cx="1327.3" cy="1168.7" r="16.2" fill="#33c040" stroke="#111" stroke-width="3.2"/>
<circle cx="1124.0" cy="1216.0" r="16.2" fill="#33c040" stroke="#111" stroke-width="3.2"/>
<circle cx="1092.0" cy="1238.0" r="16.2" fill="#33c040" stroke="#111" stroke-width="3.2"/>
<circle cx="1127.3" cy="1248.7" r="16.2" fill="#33c040" stroke="#111" stroke-width="3.2"/>
<circle cx="1239.3" cy="1215.3" r="16.2" fill="#33c040" stroke="#111" stroke-width="3.2"/>
<circle cx="1199.3" cy="1233.3" r="16.2" fill="#33c040" stroke="#111" stroke-width="3.2"/>
<circle cx="1310.7" cy="1247.3" r="16.2" fill="#33c040" stroke="#111" stroke-width="3.2"/>
<circle cx="1212.0" cy="1298.0" r="16.2" fill="#33c040" stroke="#111" stroke-width="3.2"/>
<circle cx="1274.7" cy="1294.0" r="16.2" fill="#33c040" stroke="#111" stroke-width="3.2"/>
<circle cx="1314.0" cy="1327.3" r="16.2" fill="#33c040" stroke="#111" stroke-width="3.2"/>
<circle cx="1495.3" cy="1054.0" r="16.2" fill="#33c040" stroke="#111" stroke-width="3.2"/>
<circle cx="1439.3" cy="1184.7" r="16.2" fill="#33c040" stroke="#111" stroke-width="3.2"/>
<circle cx="1360.0" cy="1228.0" r="16.2" fill="#33c040" stroke="#111" stroke-width="3.2"/>
<circle cx="1387.3" cy="1242.7" r="16.2" fill="#33c040" stroke="#111" stroke-width="3.2"/>
<circle cx="1412.7" cy="1223.3" r="16.2" fill="#33c040" stroke="#111" stroke-width="3.2"/>
<circle cx="1441.3" cy="1220.7" r="16.2" fill="#33c040" stroke="#111" stroke-width="3.2"/>
<circle cx="1443.3" cy="1252.0" r="16.2" fill="#33c040" stroke="#111" stroke-width="3.2"/>
<circle cx="1417.3" cy="1270.0" r="16.2" fill="#33c040" stroke="#111" stroke-width="3.2"/>
<circle cx="1366.0" cy="1293.3" r="16.2" fill="#33c040" stroke="#111" stroke-width="3.2"/>
<circle cx="1397.3" cy="1288.7" r="16.2" fill="#33c040" stroke="#111" stroke-width="3.2"/>
<circle cx="1498.7" cy="1247.3" r="16.2" fill="#33c040" stroke="#111" stroke-width="3.2"/>
<circle cx="1534.7" cy="1268.0" r="16.2" fill="#33c040" stroke="#111" stroke-width="3.2"/>
<circle cx="1476.0" cy="1298.0" r="16.2" fill="#33c040" stroke="#111" stroke-width="3.2"/>
<circle cx="1503.3" cy="1291.3" r="16.2" fill="#33c040" stroke="#111" stroke-width="3.2"/>
<circle cx="1499.3" cy="1320.7" r="16.2" fill="#33c040" stroke="#111" stroke-width="3.2"/>
<circle cx="1568.0" cy="1318.0" r="16.2" fill="#33c040" stroke="#111" stroke-width="3.2"/>
<circle cx="1426.7" cy="1357.3" r="16.2" fill="#33c040" stroke="#111" stroke-width="3.2"/>
<circle cx="1482.7" cy="1356.7" r="16.2" fill="#33c040" stroke="#111" stroke-width="3.2"/>
<circle cx="1532.0" cy="1346.0" r="16.2" fill="#33c040" stroke="#111" stroke-width="3.2"/>
<circle cx="1578.0" cy="1376.7" r="16.2" fill="#33c040" stroke="#111" stroke-width="3.2"/>
<circle cx="1828.0" cy="1162.0" r="16.2" fill="#33c040" stroke="#111" stroke-width="3.2"/>
<circle cx="1729.0" cy="1273.0" r="16.2" fill="#33c040" stroke="#111" stroke-width="3.2"/>
<circle cx="1752.0" cy="1297.0" r="16.2" fill="#33c040" stroke="#111" stroke-width="3.2"/>
<circle cx="1811.3" cy="1342.6" r="16.2" fill="#33c040" stroke="#111" stroke-width="3.2"/>
<circle cx="2051.6" cy="1409.0" r="16.2" fill="#33c040" stroke="#111" stroke-width="3.2"/>
</g>
<rect x="334.2" y="16.2" width="2010.4999999999998" height="1485.2" fill="none" stroke="#262626" stroke-width="8.5"/>
<line x1="294" y1="1432.4" x2="334.2" y2="1432.4" stroke="#262626" stroke-width="8.2"/>
<text x="270.5" y="1465.7" text-anchor="end" letter-spacing="-1.2" font-family="DejaVu Sans" font-size="90" fill="#262626">0.0</text>
<line x1="294" y1="1159.6" x2="334.2" y2="1159.6" stroke="#262626" stroke-width="8.2"/>
<text x="270.5" y="1193.3" text-anchor="end" letter-spacing="-1.2" font-family="DejaVu Sans" font-size="90" fill="#262626">0.2</text>
<line x1="294" y1="886.8" x2="334.2" y2="886.8" stroke="#262626" stroke-width="8.2"/>
<text x="270.5" y="923.3" text-anchor="end" letter-spacing="-1.2" font-family="DejaVu Sans" font-size="90" fill="#262626">0.4</text>
<line x1="294" y1="613.9" x2="334.2" y2="613.9" stroke="#262626" stroke-width="8.2"/>
<text x="270.5" y="651.3" text-anchor="end" letter-spacing="-1.2" font-family="DejaVu Sans" font-size="90" fill="#262626">0.6</text>
<line x1="294" y1="341.1" x2="334.2" y2="341.1" stroke="#262626" stroke-width="8.2"/>
<text x="270.5" y="379" text-anchor="end" letter-spacing="-1.2" font-family="DejaVu Sans" font-size="90" fill="#262626">0.8</text>
<line x1="294" y1="68.3" x2="334.2" y2="68.3" stroke="#262626" stroke-width="8.2"/>
<text x="270.5" y="105.7" text-anchor="end" letter-spacing="-1.2" font-family="DejaVu Sans" font-size="90" fill="#262626">1.0</text>
<line x1="333.0" y1="1501.4" x2="333.0" y2="1544.3" stroke="#262626" stroke-width="8.2"/>
<text x="332.4" y="1631.2" text-anchor="middle" font-family="DejaVu Sans" font-size="90" fill="#262626">1</text>
<line x1="943.3" y1="1501.4" x2="943.3" y2="1544.3" stroke="#262626" stroke-width="8.2"/>
<text x="942.8" y="1631.2" text-anchor="middle" font-family="DejaVu Sans" font-size="90" fill="#262626">5</text>
<line x1="1071.1" y1="1501.4" x2="1071.1" y2="1544.3" stroke="#262626" stroke-width="8.2"/>
<text x="1071.3" y="1631.2" text-anchor="middle" font-family="DejaVu Sans" font-size="90" fill="#262626">7</text>
<line x1="1206.6" y1="1501.4" x2="1206.6" y2="1544.3" stroke="#262626" stroke-width="8.2"/>
<text x="1205.7" y="1631.2" text-anchor="middle" font-family="DejaVu Sans" font-size="90" fill="#262626">10</text>
<line x1="1469.9" y1="1501.4" x2="1469.9" y2="1544.3" stroke="#262626" stroke-width="8.2"/>
<text x="1468.9" y="1631.2" text-anchor="middle" font-family="DejaVu Sans" font-size="90" fill="#262626">20</text>
<line x1="1887.2" y1="1501.4" x2="1887.2" y2="1544.3" stroke="#262626" stroke-width="8.2"/>
<text x="1885.8" y="1631.2" text-anchor="middle" font-family="DejaVu Sans" font-size="90" fill="#262626">60</text>
<line x1="2081.2" y1="1501.4" x2="2081.2" y2="1544.3" stroke="#262626" stroke-width="8.2"/>
<text x="2080.2" y="1631.2" text-anchor="middle" font-family="DejaVu Sans" font-size="90" fill="#262626">100</text>
<line x1="2344.7" y1="1501.4" x2="2344.7" y2="1544.3" stroke="#262626" stroke-width="8.2"/>
<text x="2343.5" y="1631.2" text-anchor="middle" font-family="DejaVu Sans" font-size="90" fill="#262626">200</text>
<line x1="595.3" y1="1501.4" x2="595.3" y2="1525.6" stroke="#262626" stroke-width="5.5"/>
<line x1="749.3" y1="1501.4" x2="749.3" y2="1525.6" stroke="#262626" stroke-width="5.5"/>
<line x1="858.6" y1="1501.4" x2="858.6" y2="1525.6" stroke="#262626" stroke-width="5.5"/>
<line x1="1012.6" y1="1501.4" x2="1012.6" y2="1525.6" stroke="#262626" stroke-width="5.5"/>
<line x1="1121.8" y1="1501.4" x2="1121.8" y2="1525.6" stroke="#262626" stroke-width="5.5"/>
<line x1="1166.6" y1="1501.4" x2="1166.6" y2="1525.6" stroke="#262626" stroke-width="5.5"/>
<line x1="1623.9" y1="1501.4" x2="1623.9" y2="1525.6" stroke="#262626" stroke-width="5.5"/>
<line x1="1733.2" y1="1501.4" x2="1733.2" y2="1525.6" stroke="#262626" stroke-width="5.5"/>
<line x1="1817.9" y1="1501.4" x2="1817.9" y2="1525.6" stroke="#262626" stroke-width="5.5"/>
<line x1="1945.7" y1="1501.4" x2="1945.7" y2="1525.6" stroke="#262626" stroke-width="5.5"/>
<line x1="1996.4" y1="1501.4" x2="1996.4" y2="1525.6" stroke="#262626" stroke-width="5.5"/>
<line x1="2041.2" y1="1501.4" x2="2041.2" y2="1525.6" stroke="#262626" stroke-width="5.5"/>
<text x="1139.2" y="1745.5" font-family="DejaVu Sans" font-size="98" fill="#262626">(S/N)<tspan font-size="69.5" dy="17">total</tspan></text>
<text transform="translate(81.8 757.8) rotate(-90)" text-anchor="middle" font-family="DejaVu Sans" font-size="99" fill="#262626"><tspan font-style="italic">F</tspan><tspan font-size="70" dy="17">blue</tspan><tspan dy="-17">/</tspan><tspan font-style="italic">F</tspan><tspan font-size="70" dy="17">total</tspan></text>
<rect x="1734.8" y="48" width="574.2" height="219" rx="12" ry="12" fill="#fff" fill-opacity="0.8" stroke="#d6d6d6" stroke-width="5"/>
<path d="M1829.4 96.2L1816.0 123.39999999999999L1842.8000000000002 123.39999999999999Z" fill="#ffb6c1"/>
<circle cx="1831.2" cy="208.4" r="16.2" fill="#33c040" stroke="#111" stroke-width="3.2"/>
<text x="1954.5" y="128" font-family="DejaVu Sans" font-size="68" fill="#262626">Vitte+25</text>
<text x="1951" y="227" word-spacing="3.5" font-family="DejaVu Sans" font-size="68" fill="#262626">This work</text>
</svg>
</body></html>
